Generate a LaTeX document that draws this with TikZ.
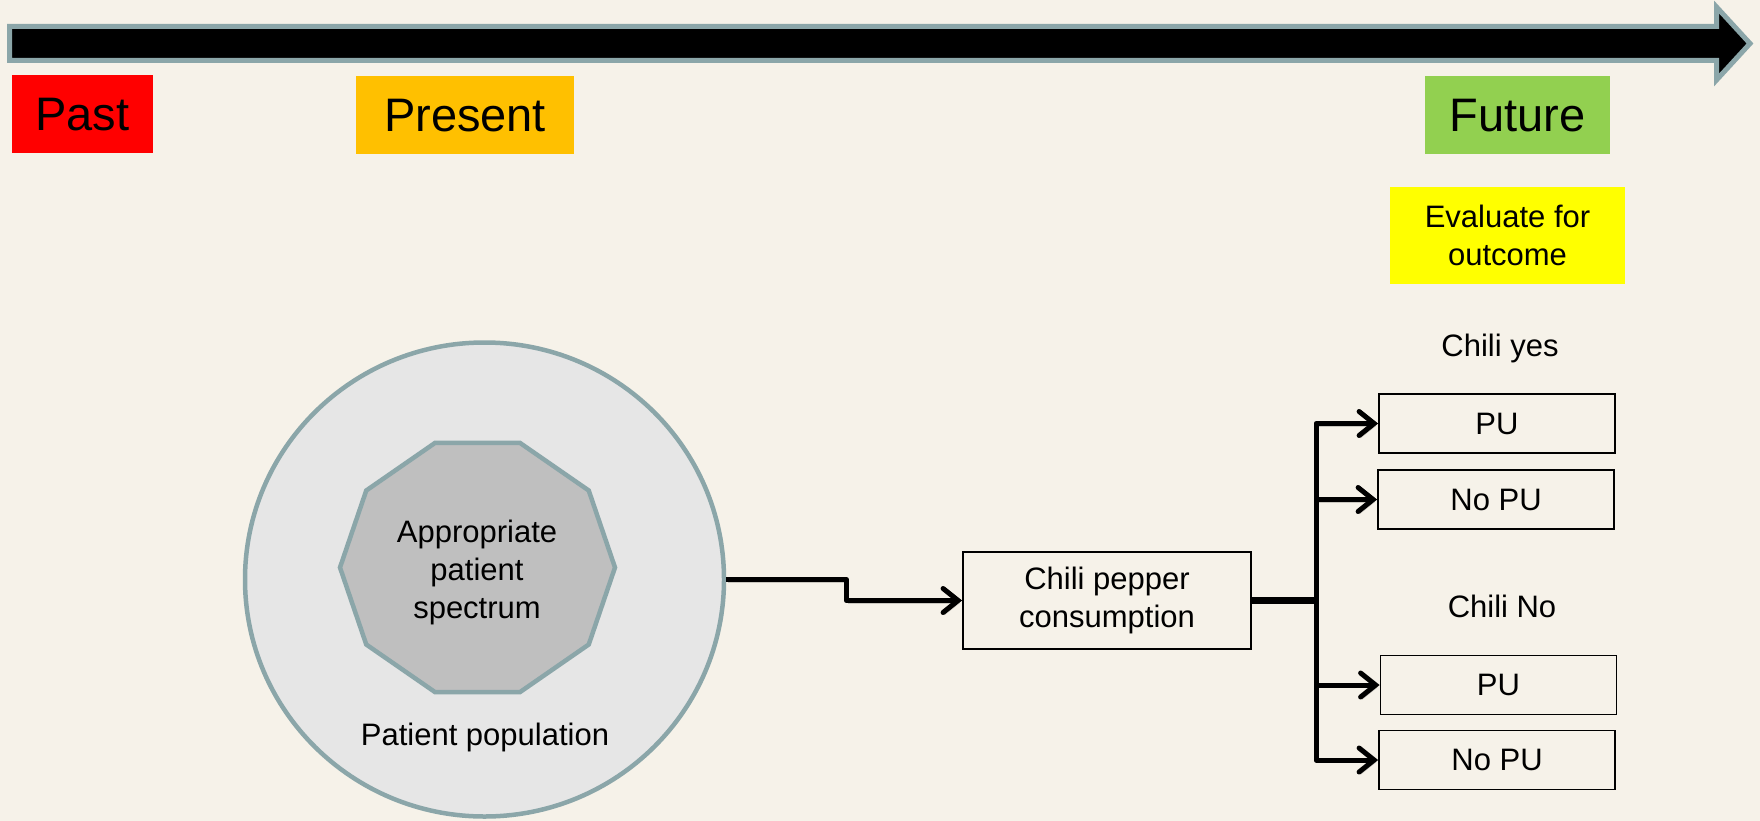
\documentclass[tikz,border=0pt]{standalone}
\usepackage{fontspec}
\setmainfont{Liberation Sans}
\usetikzlibrary{arrows.meta,shapes.geometric}

\definecolor{bg}{HTML}{F6F2E9}
\definecolor{outline}{HTML}{8BA6A9}
\definecolor{pastred}{HTML}{FF0000}
\definecolor{presorange}{HTML}{FFC000}
\definecolor{futgreen}{HTML}{92D050}
\definecolor{evalyellow}{HTML}{FFFF00}
\definecolor{circfill}{HTML}{E6E6E6}
\definecolor{decfill}{HTML}{BFBFBF}

\begin{document}
\begin{tikzpicture}[x=1pt,y=-1pt,
  era/.style={inner sep=0pt, text depth=0pt, font=\fontsize{47}{56}\selectfont},
  small/.style={inner sep=0pt, font=\fontsize{31}{38}\selectfont},
  outbox/.style={small, draw=black, line width=1.8pt, align=center,
                 minimum width=236pt, minimum height=59pt},
  shade/.style={preaction={draw=black, opacity=0.18,
                 transform canvas={shift={(1.5pt,-2.5pt)}}}},
  conn/.style={line width=5pt, line join=round, shade,
               -{Straight Barb[length=15pt,width=24pt,line cap=round]}},
  stub/.style={line width=7.5pt, shade}]

% page background and frame
\fill[bg] (0,0) rectangle (1760,821);
\useasboundingbox (0,0) rectangle (1760,821);

% timeline arrow
\draw[line width=5pt, draw=outline, fill=black, line join=miter]
  (9.5,26.5) -- (1716.5,26.5) -- (1716.5,7) -- (1750,43.5)
  -- (1716.5,80) -- (1716.5,60.5) -- (9.5,60.5) -- cycle;

% time labels
\node[era, fill=pastred, minimum width=141pt, minimum height=78pt] (past) at (82.5,114) {Past};
\node[era, fill=presorange, minimum width=218pt, minimum height=78pt] (present) at (465,115) {Present};
\node[era, fill=futgreen, minimum width=185pt, minimum height=78pt] (future) at (1517.5,115) {Future};
\node[small, fill=evalyellow, align=center, minimum width=235pt, minimum height=97pt] (eval)
  at (1507.5,235.5) {Evaluate for\\outcome};

% patient population and spectrum
\node[ellipse, draw=outline, line width=4.5pt, fill=circfill, inner sep=0pt,
      minimum width=479pt, minimum height=474pt] (pop) at (484.5,579.5) {};
\draw[draw=outline, line width=4.5pt, fill=decfill, line join=miter]
  (615,567.5) \foreach \a in {36,72,...,324} { -- ({477.5+137.5*cos(\a)},{567.5-131*sin(\a)}) } -- cycle;
\node[small, align=center] (spectrum) at (477,572) {Appropriate\\patient\\spectrum};
\node[small, anchor=base] (poplabel) at (485,745) {Patient population};

% exposure and outcomes
\node[outbox, minimum width=288pt, minimum height=97pt] (chili) at (1107,600.5) {Chili pepper\\consumption};
\node[small, anchor=base] (yes) at (1500,356) {Chili yes};
\node[small, anchor=base] (no) at (1502,617) {Chili No};
\node[outbox] (pu1) at (1497,423.5) {PU};
\node[outbox] (nopu1) at (1496,499.5) {No PU};
\node[outbox] (pu2) at (1498.5,685) {PU};
\node[outbox] (nopu2) at (1497,760) {No PU};

% connectors
\draw[conn] (pop.east) -- ++(120,0) |- (chili.west);
\coordinate (fork) at (1316,600.5);
\draw[stub] (chili.east) -- (fork);
\draw[conn] (fork) |- (pu1.west);
\draw[conn] (fork) |- (nopu1.west);
\draw[conn] (fork) |- (pu2.west);
\draw[conn] (fork) |- (nopu2.west);
\end{tikzpicture}
\end{document}
